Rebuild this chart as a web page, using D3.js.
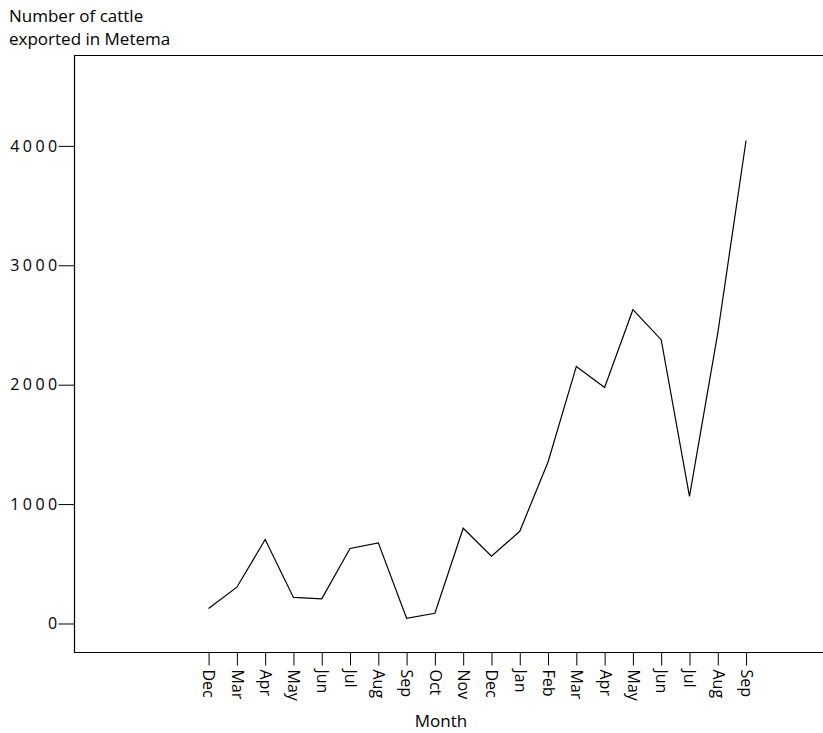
<!DOCTYPE html>
<html>
<head>
<meta charset="utf-8">
<script src="https://cdn.jsdelivr.net/npm/d3@7"></script>
<style>
  body { margin: 0; background: #fff; }
  text { font-family: "Open Sans", Lato, sans-serif; fill: #000; }
</style>
</head>
<body>
<svg id="chart" width="823" height="733"></svg>
<script>
const months = ["Dec","Mar","Apr","May","Jun","Jul","Aug","Sep","Oct","Nov","Dec","Jan","Feb","Mar","Apr","May","Jun","Jul","Aug","Sep"];
const cattle = [125, 304, 703, 218, 207, 628, 675, 44, 86, 798, 563, 772, 1353, 2153, 1977, 2628, 2377, 1065, 2432, 4045];
const yTicks = [0, 1000, 2000, 3000, 4000];

const svg = d3.select("#chart");
const pLeft = 74.5, pTop = 55.5, pBottom = 652.5, pRight = 823;
const font = "'Open Sans', Lato, sans-serif";

const x = d3.scaleLinear().domain([-4.74, 21.72]).range([pLeft, pRight]);
const y = d3.scaleLinear().domain([-243, 4757]).range([pBottom, pTop]);

// frame
svg.append("path")
  .attr("d", `M${pRight + 2},${pTop}H${pLeft}V${pBottom}H${pRight + 2}`)
  .attr("fill", "none").attr("stroke", "#000").attr("stroke-width", 1.2);

// y axis
const yAxis = svg.append("g").attr("transform", `translate(${pLeft},0)`)
  .call(d3.axisLeft(y).tickValues(yTicks).tickSize(16).tickPadding(0).tickFormat(d3.format("d")));
yAxis.select(".domain").remove();
yAxis.selectAll("line").attr("stroke", "#000");
yAxis.selectAll("text").attr("font-size", 16).style("font-family", font)
  .style("letter-spacing", "3.4px").attr("dx", 2);

// x axis
const idx = months.map((_, i) => i);
const xAxis = svg.append("g").attr("transform", `translate(0,${pBottom})`)
  .call(d3.axisBottom(x).tickValues(idx).tickSize(13).tickFormat(i => months[i]));
xAxis.select(".domain").remove();
xAxis.selectAll("line").attr("stroke", "#000");
xAxis.selectAll("text")
  .attr("font-size", 16).style("font-family", font)
  .attr("transform", "rotate(90)")
  .attr("text-anchor", "start")
  .attr("x", 17).attr("y", 0).attr("dy", "0.35em");

// line
svg.append("path")
  .datum(cattle)
  .attr("fill", "none").attr("stroke", "#000").attr("stroke-width", 1.2)
  .attr("d", d3.line().x((d, i) => x(i)).y(d => y(d)));

// titles
svg.append("text").attr("x", 9).attr("y", 22).attr("font-size", 17).text("Number of cattle");
svg.append("text").attr("x", 9).attr("y", 45).attr("font-size", 17).text("exported in Metema");
svg.append("text").attr("x", 441).attr("y", 727).attr("font-size", 17).attr("text-anchor", "middle").text("Month");
</script>
</body>
</html>
